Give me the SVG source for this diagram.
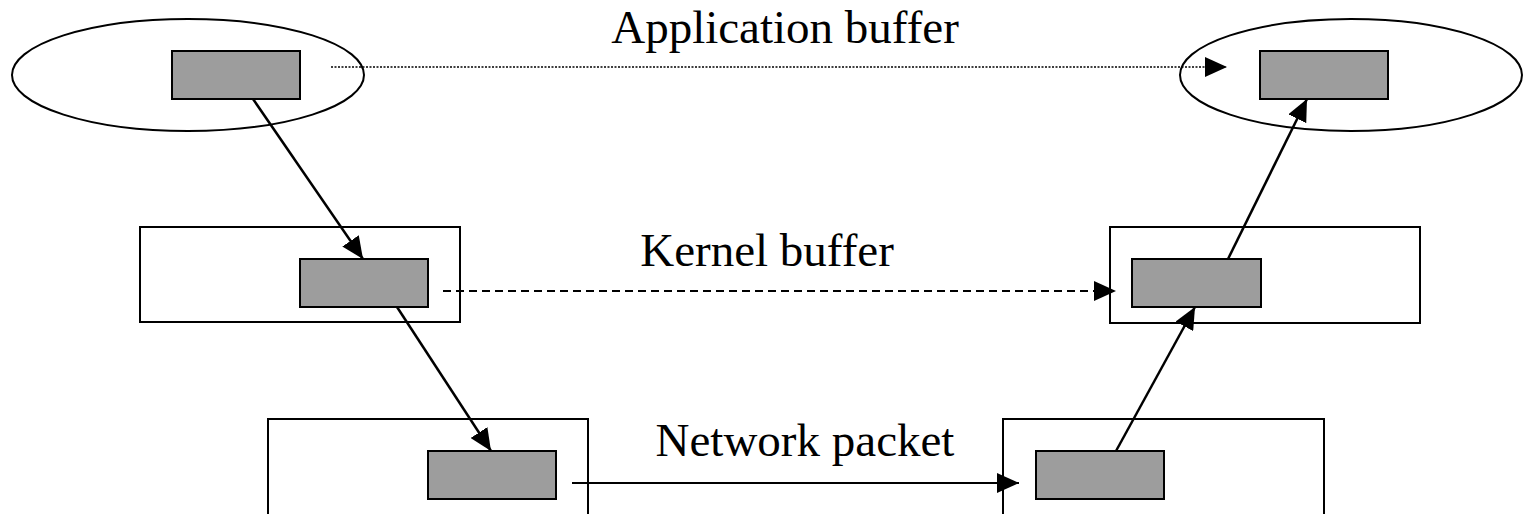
<svg xmlns="http://www.w3.org/2000/svg" width="1524" height="514" viewBox="0 0 1524 514">
  <style>
    .frame { fill: none; stroke: #000; stroke-width: 2; }
    .buf { fill: #9d9d9d; stroke: #000; stroke-width: 2; }
    .label { font-family: "Liberation Serif", "Times New Roman", serif; font-size: 47px; fill: #000; text-anchor: middle; }
    .move { fill: none; stroke: #000; stroke-width: 2.5; marker-end: url(#head); }
    .dotted { fill: none; stroke: #000; stroke-width: 1.5; stroke-dasharray: 2 1.5; marker-end: url(#head); }
    .dashed { fill: none; stroke: #000; stroke-width: 2; stroke-dasharray: 8 5; marker-end: url(#head); }
    .plain { fill: none; stroke: #000; stroke-width: 1.8; marker-end: url(#head); }
  </style>
  <defs>
    <marker id="head" markerUnits="userSpaceOnUse" markerWidth="22" markerHeight="20" refX="22" refY="10" orient="auto">
      <path d="M0,0 L22,10 L0,20 z" fill="#000"/>
    </marker>
  </defs>
  <rect width="1524" height="514" fill="#fff"/>

  <!-- sender side -->
  <g id="app-sender">
    <ellipse class="frame" cx="188" cy="75" rx="176" ry="56"/>
    <rect class="buf" x="172" y="51" width="128" height="48"/>
  </g>
  <g id="kernel-sender">
    <rect class="frame" x="140" y="227" width="320" height="95"/>
    <rect class="buf" x="300" y="259" width="128" height="48"/>
  </g>
  <g id="net-sender">
    <rect class="frame" x="268" y="419" width="320" height="110"/>
    <rect class="buf" x="428" y="451" width="128" height="48"/>
  </g>

  <!-- receiver side -->
  <g id="app-receiver">
    <ellipse class="frame" cx="1351" cy="75" rx="171" ry="56"/>
    <rect class="buf" x="1260" y="51" width="128" height="48"/>
  </g>
  <g id="kernel-receiver">
    <rect class="frame" x="1110" y="227" width="310" height="96"/>
    <rect class="buf" x="1132" y="259" width="129" height="48"/>
  </g>
  <g id="net-receiver">
    <rect class="frame" x="1003" y="419" width="321" height="110"/>
    <rect class="buf" x="1036" y="451" width="128" height="48"/>
  </g>

  <!-- layer labels -->
  <text class="label" x="785" y="43">Application buffer</text>
  <text class="label" x="767" y="266">Kernel buffer</text>
  <text class="label" x="805" y="456">Network packet</text>

  <!-- data movement -->
  <g id="connectors">
    <line class="dotted" x1="331" y1="67" x2="1227" y2="67"/>
    <line class="dashed" x1="443" y1="291" x2="1116" y2="291"/>
    <line class="plain" x1="572" y1="483" x2="1019" y2="483"/>
    <line class="move" x1="253" y1="99" x2="363" y2="259"/>
    <line class="move" x1="397" y1="307" x2="491" y2="451"/>
    <line class="move" x1="1116" y1="451" x2="1195" y2="307"/>
    <line class="move" x1="1228" y1="259" x2="1307" y2="99"/>
  </g>
</svg>
